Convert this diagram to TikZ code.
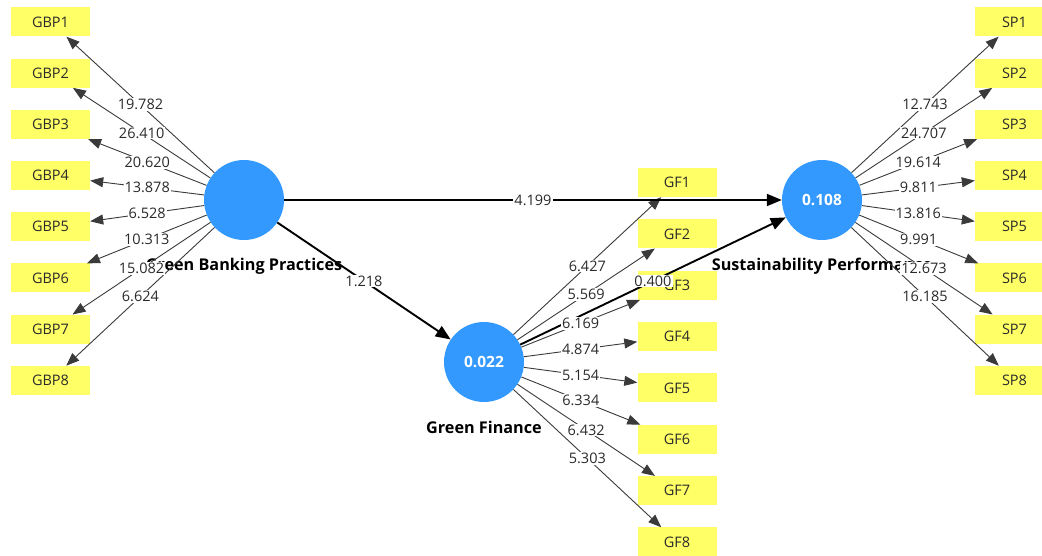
\documentclass[tikz,border=0pt]{standalone}
\usepackage{fontspec}
\setmainfont{Open Sans}
\usetikzlibrary{arrows.meta}
\definecolor{indc}{HTML}{FFFF66}
\definecolor{lvc}{HTML}{3399FF}
\definecolor{lnc}{HTML}{3A3A3A}
\definecolor{txc}{HTML}{2A2A2A}
\begin{document}
\begin{tikzpicture}[x=1pt,y=-1pt,
  indbox/.style={fill=indc, minimum width=79pt, minimum height=29pt, inner sep=0pt, text=txc, font=\fontsize{14.5}{16}\selectfont},
  latent/.style={circle, fill=lvc, minimum size=80pt, inner sep=0pt, text=white, font=\bfseries\fontsize{15.5}{17}\selectfont},
  outarr/.style={draw=lnc, line width=0.9pt, -{Triangle[length=13pt,width=10pt]}},
  inarr/.style={draw=black, line width=1.9pt, -{Triangle[length=15pt,width=12pt]}},
  lab/.style={fill=white, inner sep=1pt, text=txc, font=\fontsize{14.5}{16}\selectfont},
  lvname/.style={font=\bfseries\fontsize{16.2}{18}\selectfont, text=black}]
\useasboundingbox (0,0) rectangle (1042,556);
\clip (0,0) rectangle (1042,556);
% indicator boxes
\foreach \i in {1,...,8}{
  \node[indbox] (GBP\i) at (50.5,{22+51.2*(\i-1)}) {GBP\i};
  \node[indbox] (GF\i) at (677,{182.5+51.35*(\i-1)}) {GF\i};
  \node[indbox] (SP\i) at (1014.5,{22+51.2*(\i-1)}) {SP\i};
}
% latent variables
\node[latent] (GBP) at (244,200) {};
\node[latent] (GF) at (484,362) {0.022};
\node[latent] (SP) at (822,200) {0.108};
% names
\node[lvname] (nGBP) at (244,266) {Green Banking Practices};
\node[lvname] (nGF) at (484,427) {Green Finance};
\node[lvname] (nSP) at (822,266) {Sustainability Performance};
% outer lines
\foreach \i in {1,...,8}{
  \draw[outarr] (GBP) -- (GBP\i);
  \draw[outarr] (GF) -- (GF\i);
  \draw[outarr] (SP) -- (SP\i);
}
% inner lines
\draw[inarr] (GBP) -- (SP);
\draw[inarr] (GBP) -- (GF);
\draw[inarr] (GF) -- (SP);
% labels
\foreach \i/\v in {1/19.782,2/26.410,3/20.620,4/13.878,5/6.528,6/10.313,7/15.082,8/6.624}
  \path (GBP) -- node[lab] {\v} (GBP\i);
\foreach \i/\v in {1/6.427,2/5.569,3/6.169,4/4.874,5/5.154,6/6.334,7/6.432,8/5.303}
  \path (GF) -- node[lab] {\v} (GF\i);
\foreach \i/\v in {1/12.743,2/24.707,3/19.614,4/9.811,5/13.816,6/9.991,7/12.673,8/16.185}
  \path (SP) -- node[lab] {\v} (SP\i);
\path (GBP) -- node[lab] {4.199} (SP);
\path (GBP) -- node[lab] {1.218} (GF);
\path (GF) -- node[lab] {0.400} (SP);
\end{tikzpicture}
\end{document}
